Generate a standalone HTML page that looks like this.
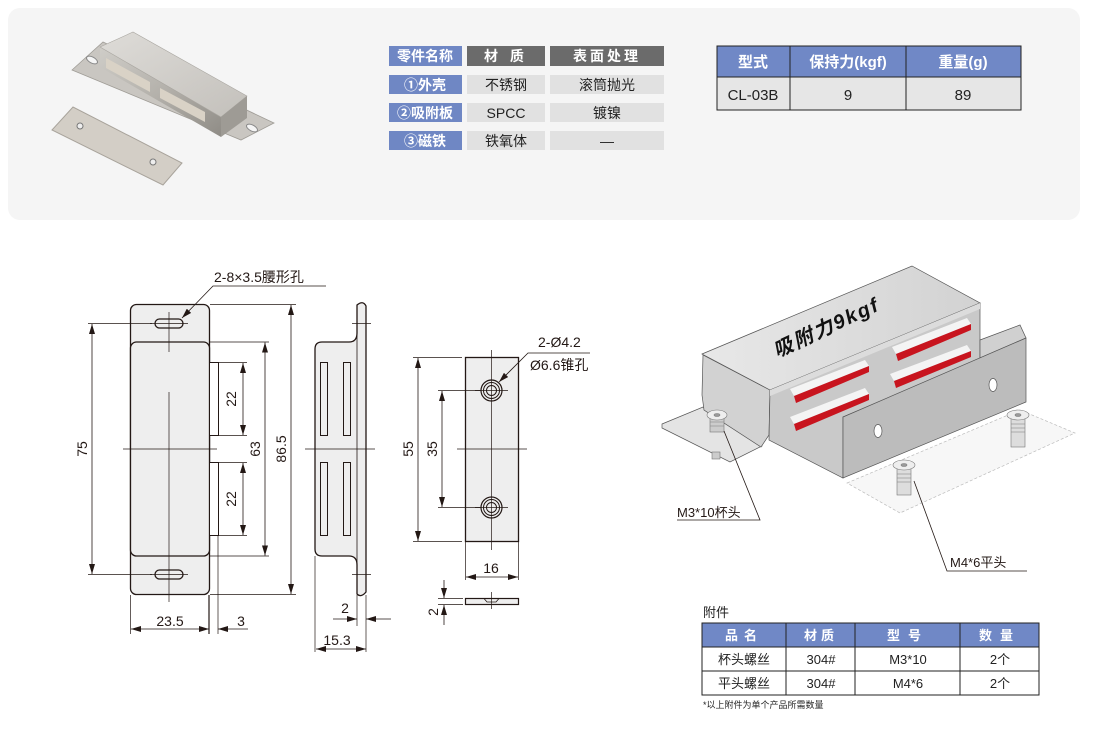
<!DOCTYPE html>
<html><head><meta charset="utf-8">
<style>
html,body{margin:0;padding:0;background:#fff;}
body{width:1106px;height:730px;overflow:hidden;font-family:"Liberation Sans","Noto Sans CJK SC",sans-serif;}
svg text{font-family:"Liberation Sans","Noto Sans CJK SC",sans-serif;}
</style></head><body>
<svg width="1106" height="730" viewBox="0 0 1106 730" xmlns="http://www.w3.org/2000/svg">
<defs>
<marker id="a" viewBox="0 0 10 6" refX="10" refY="3" markerWidth="10" markerHeight="6" orient="auto-start-reverse" markerUnits="userSpaceOnUse"><path d="M0,0 L10,3 L0,6 Z" fill="#231815"/></marker>
<linearGradient id="gb" x1="0" y1="0" x2="1" y2="1"><stop offset="0" stop-color="#cfcdc8"/><stop offset="0.5" stop-color="#b4b1ab"/><stop offset="1" stop-color="#8f8c86"/></linearGradient>
<linearGradient id="gtop" x1="0" y1="0" x2="1" y2="1"><stop offset="0" stop-color="#dedcd8"/><stop offset="1" stop-color="#c3c0bb"/></linearGradient>
<linearGradient id="gt" x1="0" y1="0" x2="1" y2="0"><stop offset="0" stop-color="#e8e8e8"/><stop offset="1" stop-color="#d2d2d2"/></linearGradient>
</defs>
<rect x="8" y="8" width="1072" height="212" rx="12" fill="#f5f5f5"/>
<!-- photo -->
<polygon points="72,70 103,42 274,123 241,140" fill="#c9c6c1" stroke="#9f9c96" stroke-width="0.8"/>
<ellipse cx="92" cy="60" rx="6" ry="3" fill="#f5f5f5" stroke="#888" transform="rotate(28 92 60)"/>
<ellipse cx="252" cy="128" rx="6" ry="3" fill="#f5f5f5" stroke="#888" transform="rotate(28 252 128)"/>
<polygon points="100,47 221,117 221,137 100,67" fill="url(#gb)"/>
<polygon points="100,47 133,32 247,96 221,117" fill="url(#gtop)" stroke="#a9a6a0" stroke-width="0.6"/>
<polygon points="221,117 247,96 247,118 221,137" fill="#9e9b95"/>
<polygon points="106,58 150,82 150,92 106,68" fill="#d9d2c6"/>
<polygon points="160,88 205,112 205,122 160,98" fill="#d9d2c6"/>
<polygon points="52,130 73,107 182,163 163,185" fill="#d3cec6" stroke="#a8a39b"/>
<circle cx="80" cy="126" r="3" fill="#eee" stroke="#777"/><circle cx="153" cy="162" r="3" fill="#eee" stroke="#777"/>
<!-- left table -->
<g font-size="14" text-anchor="middle">
<rect x="389" y="46" width="73" height="20" fill="#6f87c4"/><rect x="467" y="46" width="78" height="20" fill="#6b6b6b"/><rect x="550" y="46" width="114" height="20" fill="#6b6b6b"/>
<text x="425" y="61" fill="#fff" font-weight="bold">零件名称</text><text x="506" y="61" fill="#fff" font-weight="bold" letter-spacing="4">材 质</text><text x="607" y="61" fill="#fff" font-weight="bold" letter-spacing="3">表面处理</text>
<rect x="389" y="75" width="73" height="19" fill="#6f87c4"/><rect x="467" y="75" width="78" height="19" fill="#e1e1e1"/><rect x="550" y="75" width="114" height="19" fill="#e1e1e1"/>
<text x="425" y="90" fill="#fff" font-weight="bold">①外壳</text><text x="506" y="90" fill="#222">不锈钢</text><text x="607" y="90" fill="#222">滚筒抛光</text>
<rect x="389" y="103" width="73" height="19" fill="#6f87c4"/><rect x="467" y="103" width="78" height="19" fill="#e1e1e1"/><rect x="550" y="103" width="114" height="19" fill="#e1e1e1"/>
<text x="425" y="118" fill="#fff" font-weight="bold">②吸附板</text><text x="506" y="118" fill="#222">SPCC</text><text x="607" y="118" fill="#222">镀镍</text>
<rect x="389" y="131" width="73" height="19" fill="#6f87c4"/><rect x="467" y="131" width="78" height="19" fill="#e1e1e1"/><rect x="550" y="131" width="114" height="19" fill="#e1e1e1"/>
<text x="425" y="146" fill="#fff" font-weight="bold">③磁铁</text><text x="506" y="146" fill="#222">铁氧体</text><text x="607" y="146" fill="#222">—</text>
</g>
<!-- right table -->
<g font-size="15" text-anchor="middle">
<rect x="717" y="46" width="304" height="31" fill="#7088c6"/>
<rect x="717" y="77" width="304" height="33" fill="#e6e6e6"/>
<rect x="717" y="46" width="304" height="64" fill="none" stroke="#222" stroke-width="1"/>
<line x1="717" y1="77" x2="1021" y2="77" stroke="#222"/><line x1="790" y1="46" x2="790" y2="110" stroke="#222"/><line x1="906" y1="46" x2="906" y2="110" stroke="#222"/>
<text x="753" y="67" fill="#fff" font-weight="bold">型式</text><text x="848" y="67" fill="#fff" font-weight="bold">保持力(kgf)</text><text x="963" y="67" fill="#fff" font-weight="bold">重量(g)</text>
<text x="753" y="100" fill="#222">CL-03B</text><text x="848" y="100" fill="#222">9</text><text x="963" y="100" fill="#222">89</text>
</g>
<!-- 2D drawing -->
<g stroke="#231815" fill="none" stroke-width="1">
<rect x="130.5" y="304.5" width="79" height="290" rx="6" fill="#eeeeee" stroke-width="1.3"/>
<rect x="130.5" y="342" width="79" height="214" rx="6" fill="#eeeeee" stroke-width="1.3"/>
<rect x="155" y="319" width="28" height="9" rx="4.5" stroke-width="1.3"/>
<rect x="155" y="570" width="28" height="9" rx="4.5" stroke-width="1.3"/>
<rect x="209.5" y="362.5" width="9" height="73" fill="#fff"/>
<rect x="209.5" y="462.5" width="9" height="73" fill="#fff"/>
<line x1="169" y1="312" x2="169" y2="352" stroke-width="0.7"/><line x1="169" y1="392" x2="169" y2="602" stroke-width="0.7"/>
<line x1="123" y1="449" x2="217" y2="449" stroke-width="0.7"/>
<line x1="150" y1="323.5" x2="188" y2="323.5" stroke-width="0.7"/><line x1="150" y1="574.5" x2="188" y2="574.5" stroke-width="0.7"/>
<line x1="218" y1="362.5" x2="247" y2="362.5" stroke-width="0.7"/><line x1="218" y1="435.5" x2="247" y2="435.5" stroke-width="0.7"/>
<line x1="218" y1="462.5" x2="247" y2="462.5" stroke-width="0.7"/><line x1="218" y1="535.5" x2="247" y2="535.5" stroke-width="0.7"/>
<line x1="243" y1="363" x2="243" y2="435" stroke-width="0.8" marker-start="url(#a)" marker-end="url(#a)"/>
<line x1="243" y1="463" x2="243" y2="535" stroke-width="0.8" marker-start="url(#a)" marker-end="url(#a)"/>
<line x1="210" y1="342" x2="269" y2="342" stroke-width="0.7"/><line x1="210" y1="556" x2="269" y2="556" stroke-width="0.7"/>
<line x1="265" y1="342.5" x2="265" y2="555.5" stroke-width="0.8" marker-start="url(#a)" marker-end="url(#a)"/>
<line x1="210" y1="304.5" x2="296" y2="304.5" stroke-width="0.7"/><line x1="210" y1="594.5" x2="296" y2="594.5" stroke-width="0.7"/>
<line x1="291" y1="305" x2="291" y2="594" stroke-width="0.8" marker-start="url(#a)" marker-end="url(#a)"/>
<line x1="88" y1="323.5" x2="152" y2="323.5" stroke-width="0.7"/><line x1="88" y1="574.5" x2="152" y2="574.5" stroke-width="0.7"/>
<line x1="92" y1="324" x2="92" y2="574" stroke-width="0.8" marker-start="url(#a)" marker-end="url(#a)"/>
<line x1="130.5" y1="595" x2="130.5" y2="634" stroke-width="0.7"/><line x1="209" y1="595" x2="209" y2="634" stroke-width="1.2"/><line x1="218" y1="536" x2="218" y2="634" stroke-width="0.7"/>
<line x1="131" y1="629" x2="209" y2="629" stroke-width="0.8" marker-start="url(#a)" marker-end="url(#a)"/>
<line x1="248" y1="629" x2="218" y2="629" stroke-width="0.8" marker-end="url(#a)"/>
<polyline points="326,286 213,286 182,318" stroke-width="0.8" marker-end="url(#a)"/>
<path d="M357,333 Q357,342 349,342 L322,342 Q315,342 315,349 L315,549 Q315,556 322,556 L349,556 Q357,556 357,565 L357,594 Q361,598 366,592 L366,306 Q363,300 357,305 Z" fill="#eeeeee" stroke-width="1.3"/>
<line x1="357" y1="305" x2="357" y2="594" stroke-width="0.8"/>
<rect x="320.5" y="362.5" width="7" height="73"/><rect x="343.5" y="362.5" width="7" height="73"/>
<rect x="320.5" y="462.5" width="7" height="73"/><rect x="343.5" y="462.5" width="7" height="73"/>
<line x1="305" y1="449" x2="375" y2="449" stroke-width="0.7"/>
<line x1="352" y1="323.5" x2="371" y2="323.5" stroke-width="0.7"/><line x1="352" y1="574.5" x2="371" y2="574.5" stroke-width="0.7"/>
<line x1="357" y1="595" x2="357" y2="626" stroke-width="0.7"/><line x1="366" y1="595" x2="366" y2="652" stroke-width="0.7"/><line x1="315" y1="556" x2="315" y2="652" stroke-width="0.7"/>
<line x1="333" y1="619" x2="357" y2="619" stroke-width="0.8" marker-end="url(#a)"/><line x1="391" y1="619" x2="366" y2="619" stroke-width="0.8" marker-end="url(#a)"/>
<line x1="316" y1="649" x2="366" y2="649" stroke-width="0.8" marker-start="url(#a)" marker-end="url(#a)"/>
<rect x="465.5" y="357.5" width="53" height="184" fill="#eeeeee" stroke-width="1.3"/>
<circle cx="491.5" cy="390.5" r="10.5" stroke-width="1.2"/><circle cx="491.5" cy="390.5" r="8"/><circle cx="491.5" cy="390.5" r="5"/>
<circle cx="491.5" cy="507.5" r="10.5" stroke-width="1.2"/><circle cx="491.5" cy="507.5" r="8"/><circle cx="491.5" cy="507.5" r="5"/>
<line x1="491.5" y1="350" x2="491.5" y2="550" stroke-width="0.7"/><line x1="457" y1="449" x2="527" y2="449" stroke-width="0.7"/>
<line x1="475" y1="390.5" x2="508" y2="390.5" stroke-width="0.7"/><line x1="475" y1="507.5" x2="508" y2="507.5" stroke-width="0.7"/>
<line x1="413" y1="357.5" x2="462" y2="357.5" stroke-width="0.7"/><line x1="413" y1="541.5" x2="462" y2="541.5" stroke-width="0.7"/>
<line x1="418" y1="358" x2="418" y2="541" stroke-width="0.8" marker-start="url(#a)" marker-end="url(#a)"/>
<line x1="438" y1="390.5" x2="481" y2="390.5" stroke-width="0.7"/><line x1="438" y1="507.5" x2="481" y2="507.5" stroke-width="0.7"/>
<line x1="442" y1="391" x2="442" y2="507" stroke-width="0.8" marker-start="url(#a)" marker-end="url(#a)"/>
<line x1="465.5" y1="542" x2="465.5" y2="580" stroke-width="0.7"/><line x1="518.5" y1="542" x2="518.5" y2="580" stroke-width="0.7"/>
<line x1="466" y1="577" x2="518" y2="577" stroke-width="0.8" marker-start="url(#a)" marker-end="url(#a)"/>
<rect x="465.5" y="598.5" width="53" height="6" fill="#eeeeee" stroke-width="1.2"/>
<path d="M484,598.5 L487,602 L496,602 L499,598.5" stroke-width="0.8"/>
<line x1="491.5" y1="592" x2="491.5" y2="609" stroke-width="0.7"/>
<line x1="438" y1="598.5" x2="463" y2="598.5" stroke-width="0.7"/><line x1="438" y1="604.5" x2="463" y2="604.5" stroke-width="0.7"/>
<line x1="444" y1="580" x2="444" y2="598" stroke-width="0.8" marker-end="url(#a)"/><line x1="444" y1="625" x2="444" y2="605" stroke-width="0.8" marker-end="url(#a)"/>
<polyline points="590,353 528,353 499,382" stroke-width="0.8" marker-end="url(#a)"/>
</g>
<g font-size="14" fill="#231815">
<text x="214" y="282">2-8×3.5腰形孔</text>
<text x="236" y="399" transform="rotate(-90 236 399)" text-anchor="middle">22</text>
<text x="236" y="499" transform="rotate(-90 236 499)" text-anchor="middle">22</text>
<text x="260" y="449" transform="rotate(-90 260 449)" text-anchor="middle">63</text>
<text x="286" y="449" transform="rotate(-90 286 449)" text-anchor="middle">86.5</text>
<text x="87" y="449" transform="rotate(-90 87 449)" text-anchor="middle">75</text>
<text x="170" y="626" text-anchor="middle">23.5</text>
<text x="241" y="626" text-anchor="middle">3</text>
<text x="345" y="613" text-anchor="middle">2</text>
<text x="337" y="645" text-anchor="middle">15.3</text>
<text x="413" y="449" transform="rotate(-90 413 449)" text-anchor="middle">55</text>
<text x="437" y="449" transform="rotate(-90 437 449)" text-anchor="middle">35</text>
<text x="491" y="573" text-anchor="middle">16</text>
<text x="438" y="612" transform="rotate(-90 438 612)" text-anchor="middle">2</text>
<text x="538" y="347">2-Ø4.2</text>
<text x="530" y="370">Ø6.6锥孔</text>
</g>
<!-- 3D view -->
<g stroke="#555" stroke-width="0.7">
<polygon points="662,424 703,407 762,446 730,462 662,428" fill="#e4e4e4"/>
<polygon points="703,355 770,390 769,435 761,447 704,410 702,395" fill="#d2d2d2"/>
<polygon points="770,390 980,303 980,360 843,417 843,478 769,440" fill="#c9c9c9"/>
<polygon points="980,340 1020,325 1026,338 980,358" fill="#d0d0d0"/>
<polygon points="702,354 912,266 980,303 770,390" fill="url(#gt)"/>
<polygon points="770,390 980,303 980,309 770,396" fill="#dcdcdc" stroke="none"/>
<polygon points="843,417 1026,338 1026,402 843,478" fill="#bcbcbc"/>
<ellipse cx="878" cy="431" rx="4" ry="6.5" fill="#fff"/><ellipse cx="993" cy="385" rx="4" ry="6.5" fill="#fff"/>
<polygon points="847,483 1020,410 1075,433 900,513" fill="rgba(240,240,240,0.5)" stroke="#bbb" stroke-dasharray="3,2"/>
</g>
<g stroke="none">
<polygon points="790,389 865,360 869,366 794,396" fill="#f4f4f4"/><polygon points="794,396 869,366 869,372 796,403" fill="#c8141e"/>
<polygon points="790,417 865,388 869,394 794,424" fill="#f4f4f4"/><polygon points="794,424 869,394 869,400 796,431" fill="#c8141e"/>
<polygon points="892,347 967,318 971,324 896,354" fill="#f4f4f4"/><polygon points="896,354 971,324 971,330 898,361" fill="#c8141e"/>
<polygon points="890,374 967,345 971,351 894,381" fill="#f4f4f4"/><polygon points="894,381 971,351 971,357 896,388" fill="#c8141e"/>
</g>
<g fill="#ddd" stroke="#777" stroke-width="0.6">
<rect x="710" y="416" width="14" height="16" fill="#ccc"/><ellipse cx="717" cy="415" rx="10" ry="5" fill="#eee"/><ellipse cx="717" cy="415" rx="3" ry="1.5" fill="#999"/>
<rect x="712" y="452" width="8" height="7" fill="#ccc"/>
<rect x="897" y="467" width="14" height="28" fill="#ddd"/><ellipse cx="904" cy="465" rx="11" ry="5" fill="#eee"/><ellipse cx="904" cy="465" rx="3" ry="1.5" fill="#999"/>
<rect x="1011" y="417" width="14" height="30" fill="#ddd"/><ellipse cx="1018" cy="415" rx="11" ry="5" fill="#eee"/><ellipse cx="1018" cy="415" rx="3" ry="1.5" fill="#999"/>
</g>
<g stroke="#888" stroke-width="0.6">
<line x1="897" y1="474" x2="911" y2="474"/><line x1="897" y1="478" x2="911" y2="478"/><line x1="897" y1="482" x2="911" y2="482"/>
<line x1="1011" y1="424" x2="1025" y2="424"/><line x1="1011" y1="428" x2="1025" y2="428"/><line x1="1011" y1="432" x2="1025" y2="432"/>
<line x1="710" y1="422" x2="724" y2="422"/><line x1="710" y1="426" x2="724" y2="426"/>
</g>
<text x="777" y="358" transform="rotate(-25 777 358)" font-size="20" font-weight="bold" font-style="italic" fill="#111" letter-spacing="2">吸附力9kgf</text>
<g stroke="#231815" stroke-width="0.8" fill="none">
<polyline points="724,431 760,520 677,520"/>
<polyline points="914,481 947,571 1027,571"/>
</g>
<text x="677" y="517" font-size="13" fill="#231815">M3*10杯头</text>
<text x="950" y="567" font-size="13" fill="#231815">M4*6平头</text>
<text x="703" y="617" font-size="13" fill="#222">附件</text>
<g font-size="13" text-anchor="middle">
<rect x="702" y="623" width="337" height="24" fill="#7088c6"/>
<rect x="702" y="623" width="337" height="72" fill="none" stroke="#222"/>
<line x1="702" y1="647" x2="1039" y2="647" stroke="#222"/><line x1="702" y1="671" x2="1039" y2="671" stroke="#222"/>
<line x1="786" y1="623" x2="786" y2="695" stroke="#222"/><line x1="855" y1="623" x2="855" y2="695" stroke="#222"/><line x1="960" y1="623" x2="960" y2="695" stroke="#222"/>
<text x="744" y="640" fill="#fff" font-weight="bold" letter-spacing="6">品名</text>
<text x="821" y="640" fill="#fff" font-weight="bold" letter-spacing="4">材质</text>
<text x="908" y="640" fill="#fff" font-weight="bold" letter-spacing="8">型号</text>
<text x="1000" y="640" fill="#fff" font-weight="bold" letter-spacing="8">数量</text>
<text x="744" y="664" fill="#222">杯头螺丝</text><text x="821" y="664" fill="#222">304#</text><text x="908" y="664" fill="#222">M3*10</text><text x="1000" y="664" fill="#222">2个</text>
<text x="744" y="688" fill="#222">平头螺丝</text><text x="821" y="688" fill="#222">304#</text><text x="908" y="688" fill="#222">M4*6</text><text x="1000" y="688" fill="#222">2个</text>
</g>
<text x="703" y="708" font-size="9" fill="#222">*以上附件为单个产品所需数量</text>
</svg>
</body></html>
